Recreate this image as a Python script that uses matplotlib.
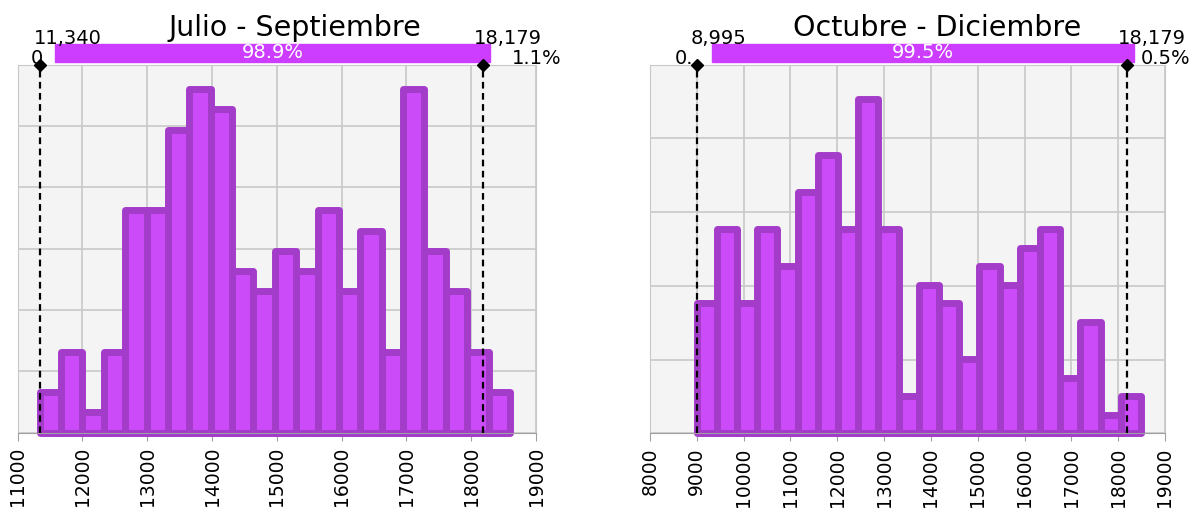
import numpy as np
import matplotlib.pyplot as plt
from matplotlib.patches import Rectangle
from matplotlib.transforms import blended_transform_factory

plt.rcParams['font.family'] = 'DejaVu Sans'

# Data (histogram counts per bin)
jul_counts = [2, 4, 1, 4, 11, 11, 15, 17, 16, 8, 7, 9, 8, 11, 7, 10, 4, 17, 9, 7, 4, 2]
oct_counts = [7, 11, 7, 11, 9, 13, 15, 11, 18, 11, 2, 8, 7, 4, 9, 8, 10, 11, 3, 6, 1, 2]
jul_range = (11340, 18598)
oct_range = (8995, 18488)
jul_marks = (11340, 18179)
oct_marks = (8995, 18179)
jul_pct = ["0", "98.9%", "1.1%"]
oct_pct = ["0..", "99.5%", "0.5%"]
titles = ["Julio - Septiembre", "Octubre - Diciembre"]

FILL = '#CC4BF9'
EDGE = '#A33CC9'
BAR = '#CC3DFF'

W, H = 1204, 508
fig = plt.figure(figsize=(W / 100, H / 100), dpi=100)


def fx(px):
    return px / W


def fy(py):
    return 1 - py / H


def panel(box, title, title_cx, counts, vrange, marks, pct, xlim, ytop):
    x0, x1, y0, y1 = box
    ax = fig.add_axes([fx(x0), fy(y1), (x1 - x0) / W, (y1 - y0) / H])
    edges = np.linspace(vrange[0], vrange[1], len(counts) + 1)
    w = edges[1] - edges[0]
    dens = np.array(counts) / (sum(counts) * w)
    ax.bar(edges[:-1], dens, width=w, align='edge', color=FILL,
           edgecolor=EDGE, linewidth=5, joinstyle='round', zorder=2,
           clip_on=False)

    ax.set_xlim(*xlim)
    ax.set_ylim(0, ytop)
    ax.set_xticks(range(xlim[0], xlim[1] + 1, 1000))
    ax.set_yticks(np.arange(0, ytop + 1e-9, 5e-5))
    ax.set_facecolor('#F4F4F4')
    ax.grid(True, color='#C8C8C8', lw=1.2)
    ax.set_axisbelow(True)
    ax.tick_params(axis='y', left=False, labelleft=False)
    ax.tick_params(axis='x', rotation=90, labelsize=13.5, length=6,
                   color='#A0A0A0', pad=4)
    for s in ax.spines.values():
        s.set_color('#C8C8C8')
    ax.spines['bottom'].set_color('#A0A0A0')

    lo, hi = marks
    for m in marks:
        ax.axvline(m, color='k', ls=(0, (3, 2)), lw=1.6, zorder=4)
    ax.plot(marks, [ytop, ytop], 'D', color='k', ms=6, clip_on=False, zorder=5)

    # range bar above the plot
    pxu = (x1 - x0) / (xlim[1] - xlim[0])
    trans = blended_transform_factory(ax.transData, fig.transFigure)
    bx0 = lo + 15 / pxu
    bx1 = hi + 7 / pxu
    ax.add_patch(Rectangle((bx0, fy(62)), bx1 - bx0, 18 / H, transform=trans,
                           color=BAR, clip_on=False, zorder=3))
    ax.text((bx0 + bx1) / 2, fy(53), pct[1], transform=trans, color='white',
            ha='center', va='center', fontsize=14)
    ax.text(lo - 6 / pxu, fy(44), f"{lo:,}", transform=trans, ha='left',
            va='baseline', fontsize=14)
    ax.text(lo + 3 / pxu, fy(64), pct[0], transform=trans, ha='right',
            va='baseline', fontsize=14)
    ax.text(hi - 9 / pxu, fy(44), f"{hi:,}", transform=trans, ha='left',
            va='baseline', fontsize=14)
    fig.text(fx(x1 + 25), fy(64), pct[2], ha='right', va='baseline', fontsize=14)
    fig.text(fx(title_cx), fy(36), title, ha='center', va='baseline', fontsize=20.5)
    return ax


panel((17.7, 536, 64.7, 432.7), titles[0], 295, jul_counts, jul_range,
      jul_marks, jul_pct, (11000, 19000), 3e-4)
panel((650, 1165, 64.7, 433.3), titles[1], 937, oct_counts, oct_range,
      oct_marks, oct_pct, (8000, 19000), 2.5e-4)

fig.savefig('out.png', dpi=100)
